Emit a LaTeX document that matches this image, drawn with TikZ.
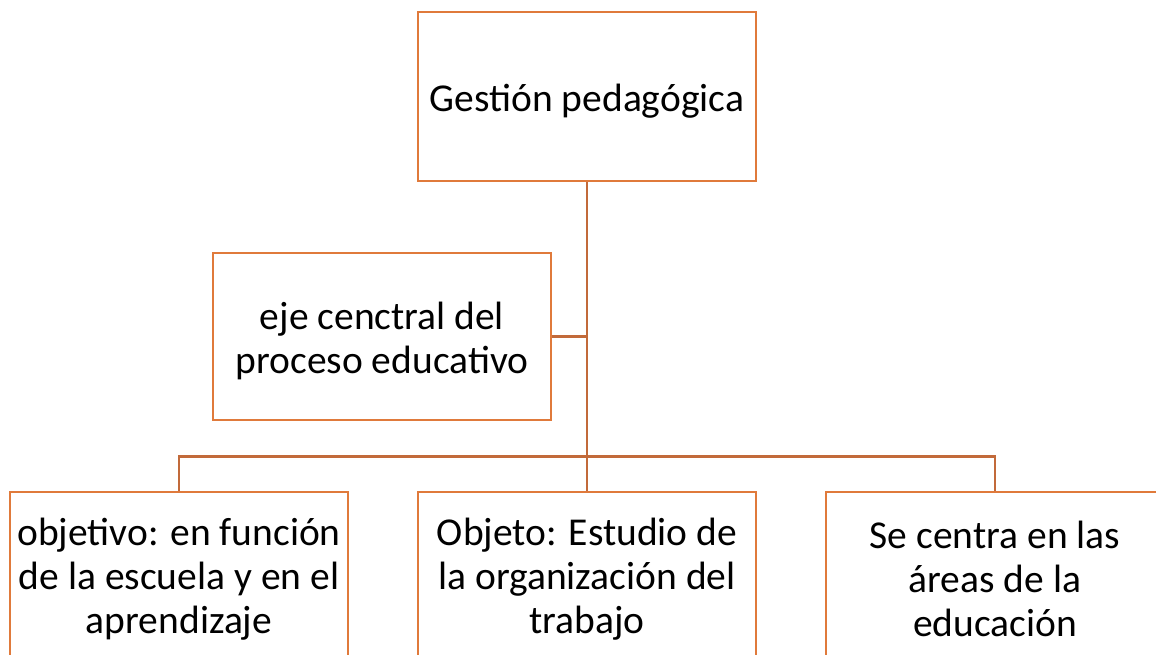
\documentclass[tikz,border=0pt]{standalone}
\usepackage{fontspec}
\setmainfont{Carlito}
\begin{document}
\begin{tikzpicture}[x=1pt,y=-1pt,
  box/.style={draw=boxc,line width=2.6pt,fill=white,minimum width=338pt,align=center,inner sep=0pt,font=\fontsize{39.5}{44}\selectfont},
  conn/.style={draw=linec,line width=2.8pt}]
\definecolor{boxc}{HTML}{E07A3B}
\definecolor{linec}{HTML}{C26A3A}
\useasboundingbox (0,0) rectangle (1156,655);
\clip (0,0) rectangle (1156,655);
\node[box,minimum height=169pt] (top) at (587,96.5) {\rule{0pt}{36pt}Gestión pedagógica};
\node[box,minimum height=167pt] (mid) at (382,336.5) {\rule{0pt}{36pt}eje cenctral del\\proceso educativo};
\node[box,minimum height=168pt] (b1) at (179,576) {\rule{0pt}{34pt}objetivo: en función\\de la escuela y en el\\aprendizaje};
\node[box,minimum height=168pt] (b2) at (587,576) {\rule{0pt}{34pt}Objeto: Estudio de\\la organización del\\trabajo};
\node[box,minimum height=168pt] (b3) at (995,576) {\rule{0pt}{34pt}Se centra en las\\áreas de la\\educación};
\draw[conn] (top.south) -- (b2.north);
\draw[conn] (mid.east) -- (mid.east -| top.south);
\draw[conn] (b1.north) -- ++(0,-34) -| (b3.north);
\end{tikzpicture}
\end{document}
